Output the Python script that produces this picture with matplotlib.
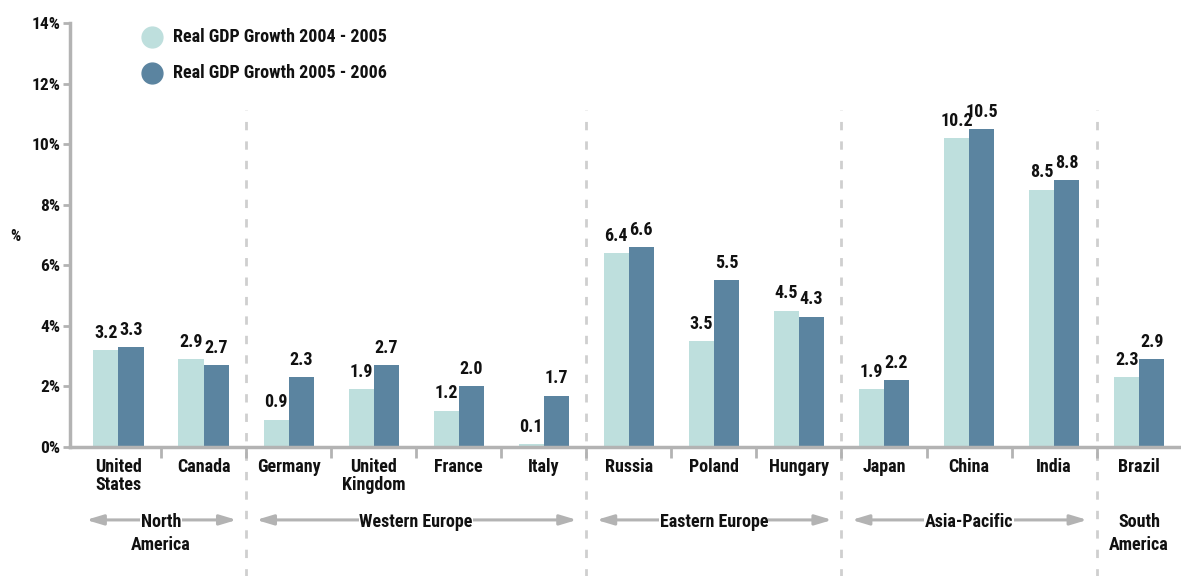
import matplotlib
matplotlib.use("Agg")
import matplotlib.pyplot as plt
import matplotlib.transforms as mtransforms
import numpy as np

countries = ["United\nStates", "Canada", "Germany", "United\nKingdom", "France", "Italy",
             "Russia", "Poland", "Hungary", "Japan", "China", "India", "Brazil"]
growth_2004_2005 = [3.2, 2.9, 0.9, 1.9, 1.2, 0.1, 6.4, 3.5, 4.5, 1.9, 10.2, 8.5, 2.3]
growth_2005_2006 = [3.3, 2.7, 2.3, 2.7, 2.0, 1.7, 6.6, 5.5, 4.3, 2.2, 10.5, 8.8, 2.9]
series_names = ["Real GDP Growth 2004 - 2005", "Real GDP Growth 2005 - 2006"]
regions = ["North\nAmerica", "Western Europe", "Eastern Europe", "Asia-Pacific", "South\nAmerica"]
region_spans = [(0, 1), (2, 5), (6, 8), (9, 11), (12, 12)]
yticks = [0, 2, 4, 6, 8, 10, 12, 14]

plt.rcParams['font.family'] = ['Roboto Condensed', 'Roboto', 'DejaVu Sans']
plt.rcParams['font.weight'] = 'bold'

LIGHT = "#bedfdd"
DARK = "#5b84a0"
GRAY = "#b3b3b3"
TXT = "#111111"

fig = plt.figure(figsize=(11.81, 5.76), dpi=100)
ax = fig.add_axes([70/1181, 1-447/576, 1110/1181, 424/576])

x = np.arange(len(countries))
w = 0.295
b1 = ax.bar(x - w/2, growth_2004_2005, w, color=LIGHT, zorder=2)
b2 = ax.bar(x + w/2, growth_2005_2006, w, color=DARK, zorder=2)

for bars, vals in ((b1, growth_2004_2005), (b2, growth_2005_2006)):
    for r, v in zip(bars, vals):
        ax.annotate(f"{v:.1f}", (r.get_x() + r.get_width()/2, r.get_height()),
                    xytext=(0, 6), textcoords="offset points", ha="center", va="bottom",
                    fontsize=13, fontweight="bold", color=TXT)

ax.set_xlim(-0.57, 12.48)
ax.set_ylim(0, 14)
ax.set_yticks(yticks)
ax.set_yticklabels([f"{t}%" for t in yticks], fontsize=12.5, fontweight="bold", color=TXT)
ax.set_xticks(np.arange(0.5, len(countries) - 1, 1.0))
ax.set_xticklabels([])
ax.tick_params(axis="y", length=5, width=2, color=GRAY, pad=2)
ax.tick_params(axis="x", length=8, width=2, color=GRAY)
for s in ("top", "right"):
    ax.spines[s].set_visible(False)
for s in ("left", "bottom"):
    ax.spines[s].set_color(GRAY)
    ax.spines[s].set_linewidth(2.5)

ax.text(-0.0495, 0.497, "%", transform=ax.transAxes, ha="center", va="center",
        fontsize=11.5, fontweight="bold", color=TXT)

trans = mtransforms.blended_transform_factory(ax.transData, ax.transAxes)

# category labels
for xi, name in zip(x, countries):
    ax.text(xi, -0.025, name, transform=trans, ha="center", va="top", fontsize=13,
            fontweight="bold", color=TXT, linespacing=1.0)

# region separators
for xs in (1.5, 5.5, 8.5, 11.5):
    ax.plot([xs, xs], [-0.31, 0.795], transform=trans, color="#cfcfcf", lw=2,
            ls=(0, (3, 4)), clip_on=False, zorder=1)

# region labels with arrows
for name, (a, b) in zip(regions, region_spans):
    cx = (a + b) / 2
    lines = name.split("\n")
    if b > a:
        ax.annotate("", xy=(a - 0.38, -0.172), xytext=(b + 0.39, -0.172),
                    xycoords=trans, textcoords=trans,
                    arrowprops=dict(arrowstyle="<|-|>,head_length=1.0,head_width=0.3",
                                    color=GRAY, lw=2.2, shrinkA=0, shrinkB=0),
                    annotation_clip=False)
    for k, ln in enumerate(lines):
        ax.text(cx, -0.176 - 0.054 * k, ln, transform=trans, ha="center", va="center",
                fontsize=13, fontweight="bold", color=TXT,
                bbox=dict(boxstyle="square,pad=0.02", fc="white", ec="none"))

# legend
for yy, col, lab in ((0.967, LIGHT, series_names[0]), (0.882, DARK, series_names[1])):
    ax.plot([0.074], [yy], marker="o", ms=15, color=col, transform=ax.transAxes,
            clip_on=False, ls="none")
    ax.text(0.093, yy, lab, transform=ax.transAxes, ha="left", va="center",
            fontsize=13, fontweight="bold", color=TXT)

fig.savefig("out.png", dpi=100, facecolor="white")
